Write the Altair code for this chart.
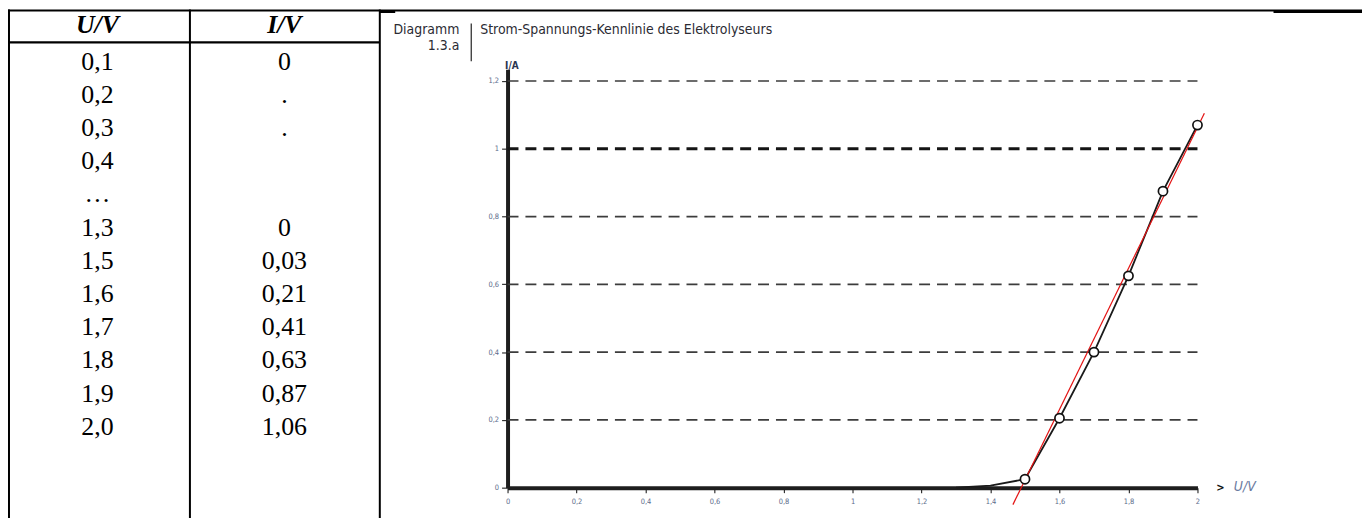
import altair as alt
import pandas as pd

# ---------------- data ----------------
table_headers = ["U/V", "I/V"]
table_U = ["0,1", "0,2", "0,3", "0,4", "…", "1,3", "1,5", "1,6", "1,7", "1,8", "1,9", "2,0"]
table_I = ["0", ".", ".", "", "", "0", "0,03", "0,21", "0,41", "0,63", "0,87", "1,06"]

point_U = [1.5, 1.6, 1.7, 1.8, 1.9, 2.0]
point_I = [0.025, 0.205, 0.40, 0.625, 0.875, 1.07]
curve_U = [1.3, 1.4, 1.5, 1.6, 1.7, 1.8, 1.9, 2.0]
curve_I = [0.0, 0.006, 0.025, 0.205, 0.40, 0.625, 0.875, 1.07]
fit_U = [1.465, 2.02]
fit_I = [-0.05, 1.105]
grid_I = [0.2, 0.4, 0.6, 0.8, 1.0, 1.2]
x_ticks = [0, 0.2, 0.4, 0.6, 0.8, 1, 1.2, 1.4, 1.6, 1.8, 2]
y_ticks = [0, 0.2, 0.4, 0.6, 0.8, 1, 1.2]

diag_label = ["Diagramm", "1.3.a"]
diag_title = "Strom-Spannungs-Kennlinie des Elektrolyseurs"

# ---------------- layout ----------------
W, H = 694, 421
PAD_L, PAD_T = 502.5, 60
PAD_R = 1362 - PAD_L - W
PAD_B = 510 - PAD_T - H

NARROW = "Liberation Sans Narrow, DejaVu Sans Condensed, sans-serif"
SERIF = "Liberation Serif, Times New Roman, serif"
TICK_COL = "#5b6b8b"
TFS = 26

# ---------------- table ----------------
rows = []
for r, (u, i) in enumerate(zip(table_U, table_I)):
    rows.append({"col": 0, "row": r, "txt": u})
    rows.append({"col": 1, "row": r, "txt": i})
df_body = pd.DataFrame(rows)
df_head = pd.DataFrame({"col": [0, 1], "txt": table_headers})

tx = alt.Scale(domain=[0, 1], range=[-412.5, -224.5], nice=False, zero=False)
ty = alt.Scale(domain=[0, len(table_U) - 1], range=[-7.5, -7.5 + 33.4 * (len(table_U) - 1)], nice=False, zero=False)

body = alt.Chart(df_body).mark_text(font=SERIF, fontSize=TFS, color="black",
                                    baseline="middle", align="center").encode(
    x=alt.X("col:Q", scale=tx, axis=None),
    y=alt.Y("row:Q", scale=ty, axis=None),
    text="txt:N",
)
head = alt.Chart(df_head).mark_text(font=SERIF, fontSize=TFS, color="black", fontWeight="bold",
                                    fontStyle="italic", baseline="middle", align="center").encode(
    x=alt.X("col:Q", scale=tx, axis=None),
    y=alt.value(-44),
    text="txt:N",
)
table = alt.layer(body, head)

# ---------------- decorations ----------------
one = pd.DataFrame({"k": [0]})


def rule(x, x2, y, y2, w, color="black"):
    return alt.Chart(one).mark_rule(strokeWidth=w, color=color).encode(
        x=alt.value(x), x2=alt.value(x2), y=alt.value(y), y2=alt.value(y2))


def label(txt, x, y, size, align="left", color="#2b2b33", weight="normal", style="normal", font=NARROW,
          baseline="alphabetic"):
    return alt.Chart(one).mark_text(text=txt, font=font, fontSize=size, align=align, color=color,
                                    fontWeight=weight, fontStyle=style, baseline=baseline).encode(
        x=alt.value(x), y=alt.value(y))


deco = alt.layer(
    rule(-501.5, -501.5, -60, 460, 2),          # left border
    rule(-319.5, -319.5, -60, 460, 2),          # column divider
    rule(-128.5, -128.5, -60, 460, 2),          # diagram cell divider
    rule(-502.5, 860, -59, -59, 2),             # top line
    rule(770.5, 860, -58, -58, 3),              # thick top segment right
    rule(-128.5, -113, -58, -58, 3),            # thick top segment left of diagram cell
    rule(-502.5, -128.5, -27, -27, 2.2),        # header bottom line
    rule(-36.5, -36.5, -46, -8, 1.3, "#333"),   # title separator
    label(diag_label[0], -48.5, -35, 14, align="right"),
    label(diag_label[1], -48.5, -19, 14, align="right"),
    label(diag_title, -27.5, -35, 14),
    label(">", W + 19, H, 10, color="#111", weight="bold", font="DejaVu Sans", baseline="middle"),
)

# ---------------- diagram ----------------
xs = alt.Scale(domain=[0, 2], nice=False, zero=False)
ys = alt.Scale(domain=[0, 1.235], nice=False, zero=False)
lab_expr = "replace(format(datum.value, '~g'), '.', ',')"

xaxis = alt.Axis(values=x_ticks, labelExpr=lab_expr, labelFont=NARROW, labelFontSize=7.5,
                 labelColor=TICK_COL, labelPadding=5, tickSize=5, tickWidth=1.2, tickColor="#333",
                 domainWidth=4, domainColor="#1e1e1e", grid=False, labelFlush=False, labelOverlap=False,
                 title="U/V", titleFont=NARROW, titleFontStyle="italic", titleFontWeight="normal",
                 titleFontSize=14, titleColor="#6b7ba0", titleX=730, titleY=-1, titleAlign="left",
                 titleBaseline="middle")
yaxis = alt.Axis(values=y_ticks, labelExpr=lab_expr, labelFont=NARROW, labelFontSize=7.5,
                 labelColor=TICK_COL, labelPadding=3, tickSize=6, tickWidth=1.2, tickColor="#333",
                 domainWidth=4, domainColor="#1e1e1e", grid=False, labelFlush=False, labelOverlap=False,
                 title="I/A", titleFont=NARROW, titleFontWeight="bold", titleFontSize=10,
                 titleColor="#2a3550", titleAngle=0, titleX=-3, titleY=-1, titleAlign="left",
                 titleBaseline="alphabetic")


def X(f):
    return alt.X(f"{f}:Q", scale=xs, axis=xaxis)


def Y(f):
    return alt.Y(f"{f}:Q", scale=ys, axis=yaxis)


df_grid = pd.DataFrame({"I": grid_I})
df_curve = pd.DataFrame({"U": curve_U, "I": curve_I})
df_fit = pd.DataFrame({"U": fit_U, "I": fit_I})
df_pts = pd.DataFrame({"U": point_U, "I": point_I})

grid = alt.Chart(df_grid).mark_rule(strokeDash=[11, 7]).encode(
    x=alt.value(0), x2=alt.value(W), y=Y("I"),
    strokeWidth=alt.condition(alt.datum.I == 1, alt.value(3), alt.value(1.7)),
    color=alt.condition(alt.datum.I == 1, alt.value("#151515"), alt.value("#3c3c3c")),
)
curve = alt.Chart(df_curve).mark_line(color="#1a1a1a", strokeWidth=1.8).encode(x=X("U"), y=Y("I"), order="U:Q")
fit = alt.Chart(df_fit).mark_line(color="#e31313", strokeWidth=1.2).encode(x=X("U"), y=Y("I"))
pts = alt.Chart(df_pts).mark_circle(fill="white", stroke="#111", strokeWidth=1.7, size=85, opacity=1).encode(
    x=X("U"), y=Y("I"))

diagram = alt.layer(grid, curve, fit, pts)

chart = alt.layer(table, deco, diagram).resolve_scale(x="independent", y="independent").properties(
    width=W, height=H, autosize="none",
    padding={"left": PAD_L, "top": PAD_T, "right": PAD_R, "bottom": PAD_B},
).configure_view(stroke=None)

chart.save("out.html", embed_options={"renderer": "svg", "actions": False})
